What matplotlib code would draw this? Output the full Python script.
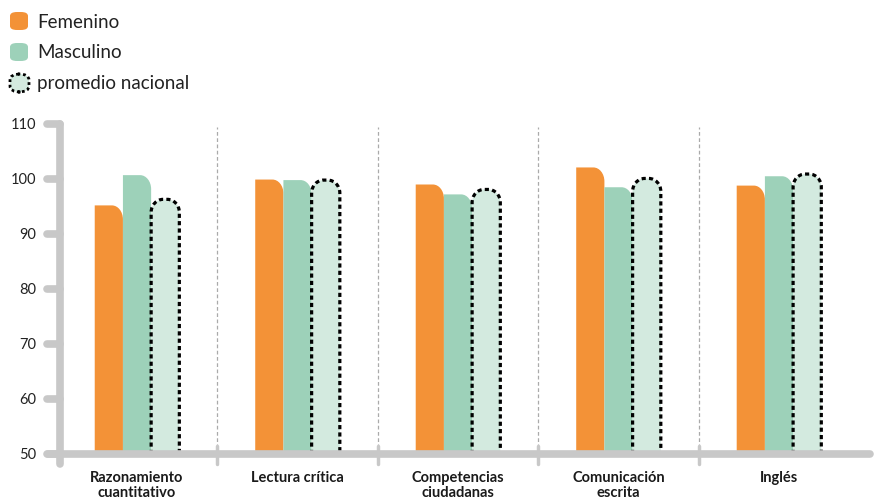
import numpy as np
import matplotlib
matplotlib.use('Agg')
from matplotlib import pyplot as plt
from matplotlib.path import Path
from matplotlib.patches import PathPatch, FancyBboxPatch

categories = ['Razonamiento\ncuantitativo', 'Lectura crítica', 'Competencias\nciudadanas',
              'Comunicación\nescrita', 'Inglés']
femenino = [95.2, 99.9, 99.0, 102.1, 98.8]
masculino = [100.7, 99.8, 97.2, 98.5, 100.5]
promedio = [96.3, 99.8, 98.1, 100.1, 100.9]
yticks = [50, 60, 70, 80, 90, 100, 110]

c_fem = '#f39237'
c_mas = '#9dd1b9'
c_pro = '#d3eadf'
c_axis = '#c8c8c8'

plt.rcParams['font.family'] = ['Lato', 'DejaVu Sans']

W, H = 878, 502
fig = plt.figure(figsize=(W / 100, H / 100), dpi=100)
x_left, x_right, y_bot, y_top = 60, 870, 455, 125
ax = fig.add_axes([x_left / W, 1 - y_bot / H, (x_right - x_left) / W, (y_bot - y_top) / H])
ax.set_ylim(50, 110)
ax.set_xlim(-0.48, 4.567)
ax.axis('off')

px_x = (x_right - x_left) / (4.567 + 0.48)
px_y = (y_bot - y_top) / 60.0
bw = 28.2 / px_x
K = 0.5523


def bar_path(x0, w, top, rx, ry, left_round, right_round):
    # bar from 50 up to top, with optional rounded top corners (open at the bottom)
    x1 = x0 + w
    verts = [(x0, 50)]
    codes = [Path.MOVETO]
    if left_round:
        verts += [(x0, top - ry), (x0, top - ry + K * ry), (x0 + rx - K * rx, top), (x0 + rx, top)]
        codes += [Path.LINETO, Path.CURVE4, Path.CURVE4, Path.CURVE4]
    else:
        verts += [(x0, top)]
        codes += [Path.LINETO]
    if right_round:
        verts += [(x1 - rx, top), (x1 - rx + K * rx, top), (x1, top - ry + K * ry), (x1, top - ry)]
        codes += [Path.LINETO, Path.CURVE4, Path.CURVE4, Path.CURVE4]
    else:
        verts += [(x1, top)]
        codes += [Path.LINETO]
    verts += [(x1, 50)]
    codes += [Path.LINETO]
    return Path(verts, codes)


for i in range(len(categories)):
    xs = i - 1.5 * bw
    ax.add_patch(PathPatch(bar_path(xs, bw, femenino[i], 11 / px_x, 14 / px_y, False, True),
                           facecolor=c_fem, edgecolor='none', zorder=2))
    ax.add_patch(PathPatch(bar_path(xs + bw, bw, masculino[i], 11 / px_x, 14 / px_y, False, True),
                           facecolor=c_mas, edgecolor='none', zorder=2))
    ax.add_patch(PathPatch(bar_path(xs + 2 * bw, bw, promedio[i], 12 / px_x, 13 / px_y, True, True),
                           facecolor=c_pro, edgecolor='black', linewidth=2.3,
                           linestyle=(0, (1.3, 1.0)), zorder=3))
    ax.text(i, 50 - 16 / px_y, categories[i], ha='center', va='top', fontsize=10.5,
            fontweight='bold', color='#1a1a1a', linespacing=1.05)

# separators
for s in np.arange(0.5, len(categories) - 0.5, 1.0):
    ax.plot([s, s], [50, 110 - 3 / px_y], color='#aaaaaa', lw=0.9, ls=(0, (3, 2)), zorder=1)
    ax.plot([s, s], [50 - 10 / px_y, 50 + 8 / px_y], color=c_axis, lw=2.5,
            solid_capstyle='round', clip_on=False, zorder=4)

# axes
ax.plot([-0.48, -0.48], [50 - 10 / px_y, 110], color=c_axis, lw=5.5,
        solid_capstyle='round', clip_on=False, zorder=4)
ax.plot([-0.48 - 12 / px_x, 4.567], [50, 50], color=c_axis, lw=5.5,
        solid_capstyle='round', clip_on=False, zorder=4)
for t in yticks:
    ax.plot([-0.48 - 13 / px_x, -0.48], [t, t], color=c_axis, lw=5.5,
            solid_capstyle='round', clip_on=False, zorder=4)
    ax.text(-0.48 - 24 / px_x, t, str(t), ha='right', va='center', fontsize=10.5,
            color='#222222')

# legend
legend = [('Femenino', c_fem, None), ('Masculino', c_mas, None), ('promedio nacional', c_pro, 'black')]
for k, (lab, col, ec) in enumerate(legend):
    yc = 22 + 31 * k
    if ec is None:
        p = FancyBboxPatch((10 / W, 1 - (yc + 9) / H), 18 / W, 18 / H,
                           boxstyle='round,pad=0,rounding_size=0.008', transform=fig.transFigure,
                           facecolor=col, edgecolor='none')
    else:
        p = FancyBboxPatch((10 / W, 1 - (yc + 9) / H), 19 / W, 18 / H,
                           boxstyle='round,pad=0,rounding_size=0.012', transform=fig.transFigure,
                           facecolor=col, edgecolor=ec, linewidth=2, linestyle=(0, (1, 1)))
    fig.patches.append(p)
    fig.text(37 / W, 1 - yc / H, lab, ha='left', va='center', fontsize=13.5,
             color='#222222')

fig.savefig('out.png', dpi=100)
